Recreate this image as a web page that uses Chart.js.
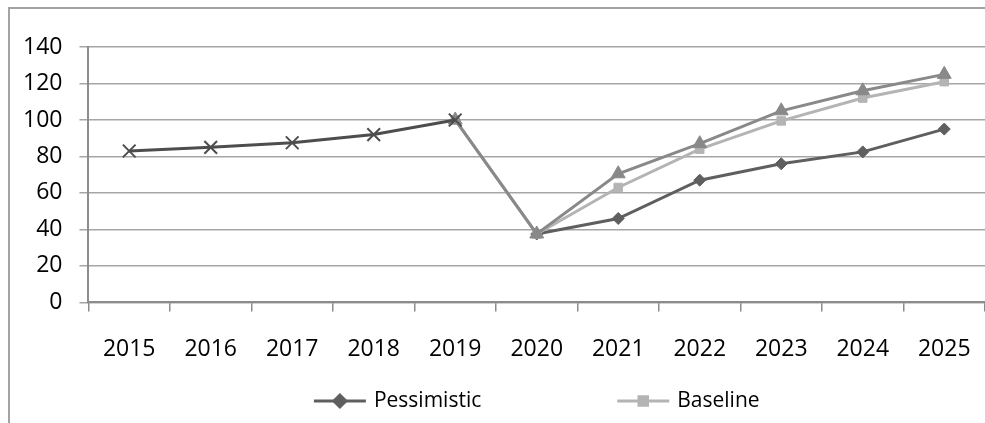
<!DOCTYPE html>
<html>
<head>
<meta charset="utf-8">
<script src="https://cdn.jsdelivr.net/npm/chart.js@4/dist/chart.umd.min.js"></script>
<style>
  html, body { margin: 0; padding: 0; background: #fff; }
  #wrap { width: 985px; height: 423px; }
</style>
</head>
<body>
<div id="wrap"><canvas id="Chart" width="985" height="423"></canvas></div>
<script>
// categories and series
var years = ['2015', '2016', '2017', '2018', '2019', '2020', '2021', '2022', '2023', '2024', '2025'];
var historical = [83, 85, 87.5, 92, 100, null, null, null, null, null, null];
var pessimistic = [null, null, null, null, null, 37.5, 46, 67, 76, 82.5, 95];
var baseline = [null, null, null, null, 100, 37.5, 63, 84, 99.5, 112, 121];
var optimistic = [null, null, null, null, 100, 37.5, 70.5, 87, 105, 116, 125];
var yTicks = [0, 20, 40, 60, 80, 100, 120, 140];
// only these two show up in the legend of the original
var legendNames = ['Pessimistic', 'Baseline'];

var fontName = "'Open Sans', 'Noto Sans', sans-serif";
Chart.defaults.font.family = fontName;
Chart.defaults.color = '#000';

function series(label, data, colour, style, radius) {
    return {
        label: label,
        data: data,
        borderColor: colour,
        backgroundColor: colour,
        borderWidth: 3,
        pointStyle: style,
        pointRadius: radius,
        pointBorderWidth: style == 'crossRot' ? 2 : 1,
        pointBorderColor: colour,
        pointBackgroundColor: colour,
        tension: 0,
        fill: false,
        spanGaps: false
    };
}

// white page plus the grey frame round the chart
var framePlugin = {
    id: 'frame',
    beforeDraw: function (chart) {
        var c = chart.ctx;
        c.save();
        c.fillStyle = '#fff';
        c.fillRect(0, 0, chart.width, chart.height);
        c.strokeStyle = '#a3a3a3';
        c.lineWidth = 2;
        c.strokeRect(9, 8, chart.width + 20, chart.height + 20);
        c.restore();
    }
};

// legend drawn like the office one: a line sample with the marker in its middle
var lineLegend = {
    id: 'lineLegend',
    afterDraw: function (chart) {
        var c = chart.ctx;
        var area = chart.chartArea;
        var sample = 52, gap = 8, between = 136, y = 401;
        c.save();
        c.font = '21px ' + fontName;
        c.textBaseline = 'middle';
        var items = chart.data.datasets.filter(function (d) { return legendNames.indexOf(d.label) >= 0; });
        items.sort(function (a, b) { return legendNames.indexOf(a.label) - legendNames.indexOf(b.label); });
        var total = 0;
        items.forEach(function (d, i) {
            total += sample + gap + c.measureText(d.label).width + (i > 0 ? between : 0);
        });
        var x = (area.left + area.right) / 2 - total / 2;
        items.forEach(function (d) {
            c.strokeStyle = d.borderColor;
            c.lineWidth = 3;
            c.beginPath();
            c.moveTo(x, y);
            c.lineTo(x + sample, y);
            c.stroke();
            c.fillStyle = d.borderColor;
            Chart.helpers.drawPoint(c, { pointStyle: d.pointStyle, radius: d.pointRadius, borderWidth: 1 }, x + sample / 2, y);
            c.fillStyle = '#000';
            c.fillText(d.label, x + sample + gap, y);
            x += sample + gap + c.measureText(d.label).width + between;
        });
        c.restore();
    }
};

var ctx = document.getElementById('Chart').getContext('2d');
var chart = new Chart(ctx, {
    type: 'line',
    data: {
        labels: years,
        datasets: [
            series('Historical', historical, '#4d4d4d', 'crossRot', 9),
            series('Optimistic', optimistic, '#898989', 'triangle', 8),
            series('Baseline', baseline, '#b4b4b4', 'rect', 6),
            series('Pessimistic', pessimistic, '#5f5f5f', 'rectRot', 6)
        ]
    },
    options: {
        responsive: false,
        animation: false,
        layout: { autoPadding: false, padding: { left: 6, top: 47, right: -2, bottom: 36 } },
        plugins: {
            legend: { display: false },
            tooltip: { enabled: false }
        },
        scales: {
            x: {
                offset: true,
                afterFit: function (axis) {
                    // the plot runs right to the edge in the original
                    axis.paddingRight = 0;
                },
                grid: {
                    offset: true,
                    drawOnChartArea: false,
                    drawTicks: true,
                    tickLength: 9,
                    color: '#8c8c8c',
                    lineWidth: 1.5
                },
                border: { color: '#8c8c8c', width: 2 },
                ticks: { font: { size: 23 }, padding: 24, maxRotation: 0, autoSkip: false }
            },
            y: {
                min: 0,
                max: 140,
                afterBuildTicks: function (axis) {
                    axis.ticks = yTicks.map(function (v) { return { value: v }; });
                },
                grid: {
                    color: '#a6a6a6',
                    lineWidth: 1.5,
                    drawTicks: true,
                    tickLength: 9
                },
                border: { color: '#8c8c8c', width: 2 },
                ticks: { font: { size: 23 }, padding: 17 }
            }
        }
    },
    plugins: [framePlugin, lineLegend]
});
</script>
</body>
</html>
